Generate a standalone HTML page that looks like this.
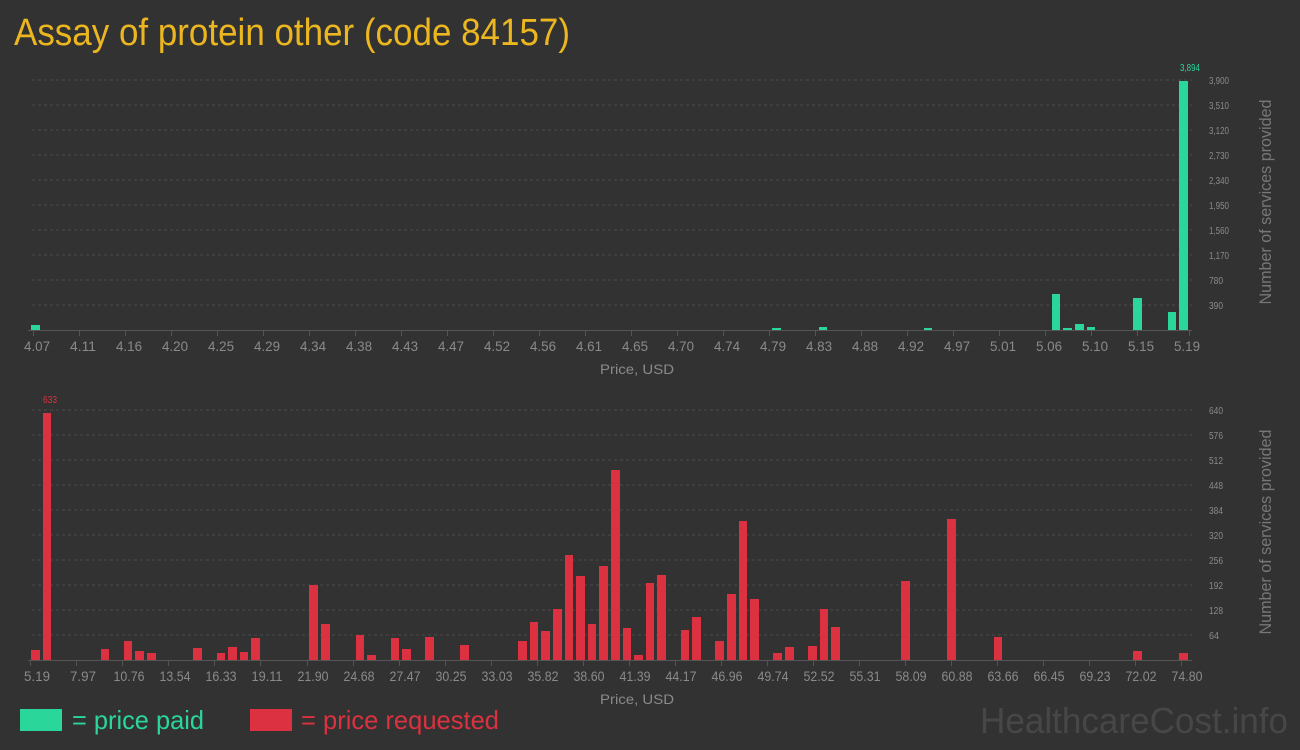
<!DOCTYPE html>
<html><head><meta charset="utf-8"><style>
html,body{margin:0;padding:0;background:#323232;}
svg{display:block;font-family:"Liberation Sans",sans-serif;}
.xl{fill:#8a8a8a;font-size:14px;text-anchor:middle;}
.yl{fill:#8a8a8a;font-size:10px;}
.g{stroke:#4a4a4a;stroke-dasharray:3,3;stroke-width:1;}
.ax{stroke:#555;stroke-width:1;}
.t{fill:#2ad69a}.r{fill:#dc3140}
</style></head><body>
<svg width="1300" height="750" viewBox="0 0 1300 750">
<rect width="1300" height="750" fill="#323232"/>
<text x="14" y="45" font-size="38" fill="#ebb61f" textLength="556" lengthAdjust="spacingAndGlyphs">Assay of protein other (code 84157)</text>

<!-- TOP CHART -->
<g>
<line class="g" x1="32" y1="305" x2="1192" y2="305"/><line class="g" x1="32" y1="280" x2="1192" y2="280"/>
<line class="g" x1="32" y1="255" x2="1192" y2="255"/><line class="g" x1="32" y1="230" x2="1192" y2="230"/>
<line class="g" x1="32" y1="205" x2="1192" y2="205"/><line class="g" x1="32" y1="180" x2="1192" y2="180"/>
<line class="g" x1="32" y1="155" x2="1192" y2="155"/><line class="g" x1="32" y1="130" x2="1192" y2="130"/>
<line class="g" x1="32" y1="105" x2="1192" y2="105"/><line class="g" x1="32" y1="80" x2="1192" y2="80"/>
<line class="ax" x1="28" y1="330.5" x2="1192" y2="330.5"/>
<g class="yl" text-anchor="start">
<text x="1209" y="309" textLength="14" lengthAdjust="spacingAndGlyphs">390</text>
<text x="1209" y="284" textLength="14" lengthAdjust="spacingAndGlyphs">780</text>
<text x="1209" y="259" textLength="20" lengthAdjust="spacingAndGlyphs">1,170</text>
<text x="1209" y="234" textLength="20" lengthAdjust="spacingAndGlyphs">1,560</text>
<text x="1209" y="209" textLength="20" lengthAdjust="spacingAndGlyphs">1,950</text>
<text x="1209" y="184" textLength="20" lengthAdjust="spacingAndGlyphs">2,340</text>
<text x="1209" y="159" textLength="20" lengthAdjust="spacingAndGlyphs">2,730</text>
<text x="1209" y="134" textLength="20" lengthAdjust="spacingAndGlyphs">3,120</text>
<text x="1209" y="109" textLength="20" lengthAdjust="spacingAndGlyphs">3,510</text>
<text x="1209" y="84" textLength="20" lengthAdjust="spacingAndGlyphs">3,900</text>
</g>
<text x="1180" y="71" font-size="10" fill="#2ad69a" textLength="20" lengthAdjust="spacingAndGlyphs">3,894</text>
<g class="t">
<rect x="31" y="325" width="9" height="5"/>
<rect x="772" y="328" width="9" height="2"/>
<rect x="819" y="327" width="8" height="3"/>
<rect x="924" y="328" width="8" height="2"/>
<rect x="1052" y="294" width="8" height="36"/>
<rect x="1063" y="328" width="9" height="2"/>
<rect x="1075" y="324" width="9" height="6"/>
<rect x="1087" y="327" width="8" height="3"/>
<rect x="1133" y="298" width="9" height="32"/>
<rect x="1168" y="312" width="8" height="18"/>
<rect x="1179" y="81" width="9" height="249"/>
</g>
<g class="xl">
<text x="37" y="351" textLength="26" lengthAdjust="spacingAndGlyphs">4.07</text>
<text x="83" y="351" textLength="26" lengthAdjust="spacingAndGlyphs">4.11</text>
<text x="129" y="351" textLength="26" lengthAdjust="spacingAndGlyphs">4.16</text>
<text x="175" y="351" textLength="26" lengthAdjust="spacingAndGlyphs">4.20</text>
<text x="221" y="351" textLength="26" lengthAdjust="spacingAndGlyphs">4.25</text>
<text x="267" y="351" textLength="26" lengthAdjust="spacingAndGlyphs">4.29</text>
<text x="313" y="351" textLength="26" lengthAdjust="spacingAndGlyphs">4.34</text>
<text x="359" y="351" textLength="26" lengthAdjust="spacingAndGlyphs">4.38</text>
<text x="405" y="351" textLength="26" lengthAdjust="spacingAndGlyphs">4.43</text>
<text x="451" y="351" textLength="26" lengthAdjust="spacingAndGlyphs">4.47</text>
<text x="497" y="351" textLength="26" lengthAdjust="spacingAndGlyphs">4.52</text>
<text x="543" y="351" textLength="26" lengthAdjust="spacingAndGlyphs">4.56</text>
<text x="589" y="351" textLength="26" lengthAdjust="spacingAndGlyphs">4.61</text>
<text x="635" y="351" textLength="26" lengthAdjust="spacingAndGlyphs">4.65</text>
<text x="681" y="351" textLength="26" lengthAdjust="spacingAndGlyphs">4.70</text>
<text x="727" y="351" textLength="26" lengthAdjust="spacingAndGlyphs">4.74</text>
<text x="773" y="351" textLength="26" lengthAdjust="spacingAndGlyphs">4.79</text>
<text x="819" y="351" textLength="26" lengthAdjust="spacingAndGlyphs">4.83</text>
<text x="865" y="351" textLength="26" lengthAdjust="spacingAndGlyphs">4.88</text>
<text x="911" y="351" textLength="26" lengthAdjust="spacingAndGlyphs">4.92</text>
<text x="957" y="351" textLength="26" lengthAdjust="spacingAndGlyphs">4.97</text>
<text x="1003" y="351" textLength="26" lengthAdjust="spacingAndGlyphs">5.01</text>
<text x="1049" y="351" textLength="26" lengthAdjust="spacingAndGlyphs">5.06</text>
<text x="1095" y="351" textLength="26" lengthAdjust="spacingAndGlyphs">5.10</text>
<text x="1141" y="351" textLength="26" lengthAdjust="spacingAndGlyphs">5.15</text>
<text x="1187" y="351" textLength="26" lengthAdjust="spacingAndGlyphs">5.19</text>
</g>
<path stroke="#555" d="M33.5 331v5M79.5 331v5M125.5 331v5M171.5 331v5M217.5 331v5M263.5 331v5M309.5 331v5M355.5 331v5M401.5 331v5M447.5 331v5M493.5 331v5M539.5 331v5M585.5 331v5M631.5 331v5M677.5 331v5M723.5 331v5M769.5 331v5M815.5 331v5M861.5 331v5M907.5 331v5M953.5 331v5M999.5 331v5M1045.5 331v5M1091.5 331v5M1137.5 331v5M1189.5 331v5"/>
<text x="637" y="374" class="xl" font-size="16" textLength="74" lengthAdjust="spacingAndGlyphs">Price, USD</text>
<text transform="translate(1271,202) rotate(-90)" font-size="17" fill="#777" text-anchor="middle" textLength="205" lengthAdjust="spacingAndGlyphs">Number of services provided</text>
</g>

<!-- BOTTOM CHART -->
<g>
<line class="g" x1="32" y1="635" x2="1192" y2="635"/><line class="g" x1="32" y1="610" x2="1192" y2="610"/>
<line class="g" x1="32" y1="585" x2="1192" y2="585"/><line class="g" x1="32" y1="560" x2="1192" y2="560"/>
<line class="g" x1="32" y1="535" x2="1192" y2="535"/><line class="g" x1="32" y1="510" x2="1192" y2="510"/>
<line class="g" x1="32" y1="485" x2="1192" y2="485"/><line class="g" x1="32" y1="460" x2="1192" y2="460"/>
<line class="g" x1="32" y1="435" x2="1192" y2="435"/><line class="g" x1="32" y1="410" x2="1192" y2="410"/>
<line class="ax" x1="28" y1="660.5" x2="1192" y2="660.5"/>
<g class="yl" text-anchor="start">
<text x="1209" y="639" textLength="10" lengthAdjust="spacingAndGlyphs">64</text>
<text x="1209" y="614" textLength="14" lengthAdjust="spacingAndGlyphs">128</text>
<text x="1209" y="589" textLength="14" lengthAdjust="spacingAndGlyphs">192</text>
<text x="1209" y="564" textLength="14" lengthAdjust="spacingAndGlyphs">256</text>
<text x="1209" y="539" textLength="14" lengthAdjust="spacingAndGlyphs">320</text>
<text x="1209" y="514" textLength="14" lengthAdjust="spacingAndGlyphs">384</text>
<text x="1209" y="489" textLength="14" lengthAdjust="spacingAndGlyphs">448</text>
<text x="1209" y="464" textLength="14" lengthAdjust="spacingAndGlyphs">512</text>
<text x="1209" y="439" textLength="14" lengthAdjust="spacingAndGlyphs">576</text>
<text x="1209" y="414" textLength="14" lengthAdjust="spacingAndGlyphs">640</text>
</g>
<text x="43" y="403" font-size="10" fill="#dc3140" textLength="14" lengthAdjust="spacingAndGlyphs">633</text>
<g class="r">
<rect x="31" y="650" width="9" height="10"/><rect x="43" y="413" width="8" height="247"/>
<rect x="101" y="649" width="8" height="11"/><rect x="124" y="641" width="8" height="19"/>
<rect x="135" y="651" width="9" height="9"/><rect x="147" y="653" width="9" height="7"/>
<rect x="193" y="648" width="9" height="12"/><rect x="217" y="653" width="8" height="7"/>
<rect x="228" y="647" width="9" height="13"/><rect x="240" y="652" width="8" height="8"/>
<rect x="251" y="638" width="9" height="22"/><rect x="309" y="585" width="9" height="75"/>
<rect x="321" y="624" width="9" height="36"/><rect x="356" y="635" width="8" height="25"/>
<rect x="367" y="655" width="9" height="5"/><rect x="391" y="638" width="8" height="22"/>
<rect x="402" y="649" width="9" height="11"/><rect x="425" y="637" width="9" height="23"/>
<rect x="460" y="645" width="9" height="15"/><rect x="518" y="641" width="9" height="19"/>
<rect x="530" y="622" width="8" height="38"/><rect x="541" y="631" width="9" height="29"/>
<rect x="553" y="609" width="9" height="51"/><rect x="565" y="555" width="8" height="105"/>
<rect x="576" y="576" width="9" height="84"/><rect x="588" y="624" width="8" height="36"/>
<rect x="599" y="566" width="9" height="94"/><rect x="611" y="470" width="9" height="190"/>
<rect x="623" y="628" width="8" height="32"/><rect x="634" y="655" width="9" height="5"/>
<rect x="646" y="583" width="8" height="77"/><rect x="657" y="575" width="9" height="85"/>
<rect x="681" y="630" width="8" height="30"/><rect x="692" y="617" width="9" height="43"/>
<rect x="715" y="641" width="9" height="19"/><rect x="727" y="594" width="9" height="66"/>
<rect x="739" y="521" width="8" height="139"/><rect x="750" y="599" width="9" height="61"/>
<rect x="773" y="653" width="9" height="7"/><rect x="785" y="647" width="9" height="13"/>
<rect x="808" y="646" width="9" height="14"/><rect x="820" y="609" width="8" height="51"/>
<rect x="831" y="627" width="9" height="33"/><rect x="901" y="581" width="9" height="79"/>
<rect x="947" y="519" width="9" height="141"/><rect x="994" y="637" width="8" height="23"/>
<rect x="1133" y="651" width="9" height="9"/><rect x="1179" y="653" width="9" height="7"/>
</g>
<g class="xl">
<text x="37" y="681" textLength="26" lengthAdjust="spacingAndGlyphs">5.19</text>
<text x="83" y="681" textLength="26" lengthAdjust="spacingAndGlyphs">7.97</text>
<text x="129" y="681" textLength="31" lengthAdjust="spacingAndGlyphs">10.76</text>
<text x="175" y="681" textLength="31" lengthAdjust="spacingAndGlyphs">13.54</text>
<text x="221" y="681" textLength="31" lengthAdjust="spacingAndGlyphs">16.33</text>
<text x="267" y="681" textLength="31" lengthAdjust="spacingAndGlyphs">19.11</text>
<text x="313" y="681" textLength="31" lengthAdjust="spacingAndGlyphs">21.90</text>
<text x="359" y="681" textLength="31" lengthAdjust="spacingAndGlyphs">24.68</text>
<text x="405" y="681" textLength="31" lengthAdjust="spacingAndGlyphs">27.47</text>
<text x="451" y="681" textLength="31" lengthAdjust="spacingAndGlyphs">30.25</text>
<text x="497" y="681" textLength="31" lengthAdjust="spacingAndGlyphs">33.03</text>
<text x="543" y="681" textLength="31" lengthAdjust="spacingAndGlyphs">35.82</text>
<text x="589" y="681" textLength="31" lengthAdjust="spacingAndGlyphs">38.60</text>
<text x="635" y="681" textLength="31" lengthAdjust="spacingAndGlyphs">41.39</text>
<text x="681" y="681" textLength="31" lengthAdjust="spacingAndGlyphs">44.17</text>
<text x="727" y="681" textLength="31" lengthAdjust="spacingAndGlyphs">46.96</text>
<text x="773" y="681" textLength="31" lengthAdjust="spacingAndGlyphs">49.74</text>
<text x="819" y="681" textLength="31" lengthAdjust="spacingAndGlyphs">52.52</text>
<text x="865" y="681" textLength="31" lengthAdjust="spacingAndGlyphs">55.31</text>
<text x="911" y="681" textLength="31" lengthAdjust="spacingAndGlyphs">58.09</text>
<text x="957" y="681" textLength="31" lengthAdjust="spacingAndGlyphs">60.88</text>
<text x="1003" y="681" textLength="31" lengthAdjust="spacingAndGlyphs">63.66</text>
<text x="1049" y="681" textLength="31" lengthAdjust="spacingAndGlyphs">66.45</text>
<text x="1095" y="681" textLength="31" lengthAdjust="spacingAndGlyphs">69.23</text>
<text x="1141" y="681" textLength="31" lengthAdjust="spacingAndGlyphs">72.02</text>
<text x="1187" y="681" textLength="31" lengthAdjust="spacingAndGlyphs">74.80</text>
</g>
<path stroke="#555" d="M30.5 661v5M76.5 661v5M122.5 661v5M168.5 661v5M214.5 661v5M260.5 661v5M307.5 661v5M353.5 661v5M399.5 661v5M445.5 661v5M491.5 661v5M537.5 661v5M583.5 661v5M629.5 661v5M675.5 661v5M721.5 661v5M767.5 661v5M813.5 661v5M859.5 661v5M905.5 661v5M951.5 661v5M997.5 661v5M1043.5 661v5M1089.5 661v5M1135.5 661v5M1181.5 661v5"/>
<text x="637" y="704" class="xl" font-size="16" textLength="74" lengthAdjust="spacingAndGlyphs">Price, USD</text>
<text transform="translate(1271,532) rotate(-90)" font-size="17" fill="#777" text-anchor="middle" textLength="205" lengthAdjust="spacingAndGlyphs">Number of services provided</text>
</g>

<!-- LEGEND -->
<rect x="20" y="709" width="42" height="22" fill="#2ad69a"/>
<text x="72" y="729" font-size="26" fill="#2ad69a" textLength="132" lengthAdjust="spacingAndGlyphs">= price paid</text>
<rect x="250" y="709" width="42" height="22" fill="#dc3140"/>
<text x="301" y="729" font-size="26" fill="#dc3140" textLength="198" lengthAdjust="spacingAndGlyphs">= price requested</text>
<text x="980" y="733" font-size="36" fill="#474747" textLength="308" lengthAdjust="spacingAndGlyphs">HealthcareCost.info</text>
</svg>
</body></html>
